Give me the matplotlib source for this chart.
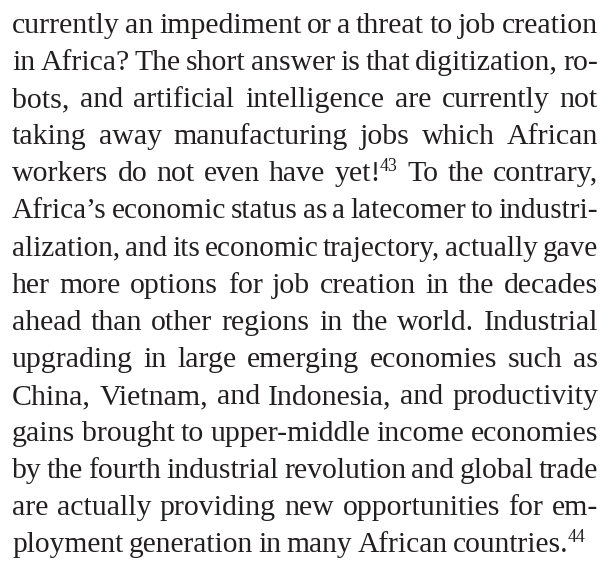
import matplotlib
matplotlib.use("Agg")
import matplotlib.pyplot as plt

# text of the page, one entry per printed line; ^nn marks a footnote number
lines = [
    "currently an impediment or a threat to job creation",
    "in Africa? The short answer is that digitization, ro-",
    "bots, and artificial intelligence are currently not",
    "taking away manufacturing jobs which African",
    "workers do not even have yet!^43 To the contrary,",
    "Africa’s economic status as a latecomer to industri-",
    "alization, and its economic trajectory, actually gave",
    "her more options for job creation in the decades",
    "ahead than other regions in the world. Industrial",
    "upgrading in large emerging economies such as",
    "China, Vietnam, and Indonesia, and productivity",
    "gains brought to upper-middle income economies",
    "by the fourth industrial revolution and global trade",
    "are actually providing new opportunities for em-",
    "ployment generation in many African countries.^44",
]

W, H = 608, 564
left, right = 12, 598
last_right = 585
first_base, leading = 33, 37.1
fsize = 21.5
sup_ratio = 0.6
min_gap = 5.0
color = "#231f20"
font = ["Liberation Serif", "DejaVu Serif"]

fig = plt.figure(figsize=(W / 100, H / 100), dpi=100)
fig.patch.set_facecolor("white")
renderer = fig.canvas.get_renderer()


def make(word, y, size, raise_px=0):
    return fig.text(0, 1 - (y - raise_px) / H, word, fontsize=size,
                    family=font, color=color, va="baseline", ha="left")


def width(t):
    return t.get_window_extent(renderer).width


def build(words, y, size):
    parts, total = [], 0
    for w in words:
        main, _, sup = w.partition("^")
        tm = make(main, y, size)
        wm = width(tm)
        ts, ws = None, 0
        if sup:
            ts = make(sup, y, size * sup_ratio, raise_px=size * 0.5)
            ws = width(ts) - 1
        parts.append((tm, wm, ts, ws))
        total += wm + ws
    return parts, total


for i, line in enumerate(lines):
    y = first_base + i * leading
    words = line.split(" ")
    target = (last_right if i == len(lines) - 1 else right) - left
    parts, total = build(words, y, fsize)
    gap = (target - total) / (len(words) - 1)
    if gap < min_gap:
        # squeeze this line a little so word gaps stay readable
        for tm, _, ts, _ in parts:
            tm.remove()
            if ts is not None:
                ts.remove()
        size = fsize * (target - min_gap * (len(words) - 1)) / total
        parts, total = build(words, y, size)
        gap = (target - total) / (len(words) - 1)
    x = left
    for tm, wm, ts, ws in parts:
        tm.set_x(x / W)
        if ts is not None:
            ts.set_x((x + wm - 1) / W)
        x += wm + ws + gap

fig.savefig("out.png", dpi=100, facecolor="white")
